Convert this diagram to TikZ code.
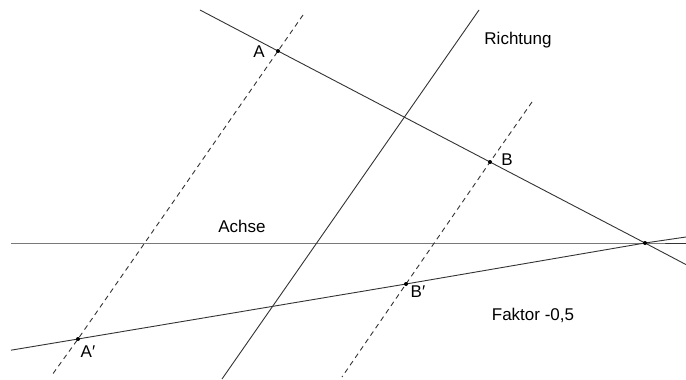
\documentclass[tikz,border=0pt]{standalone}
\usepackage{fontspec}
\setmainfont{Liberation Sans}
\usetikzlibrary{calc}
\definecolor{ln}{HTML}{333333}
\tikzset{
  gline/.style={line width=0.9pt,draw=ln},
  dline/.style={gline,dash pattern=on 5pt off 4pt},
  pt/.style={fill=black},
  lbl/.style={font=\fontsize{17}{20}\selectfont,inner sep=0pt},
}

\begin{document}
\begin{tikzpicture}[x=1pt,y=-1pt]
\useasboundingbox (0,0) rectangle (686,380);
\coordinate (A) at (278,51);
\coordinate (B) at (490,162);
\coordinate (A') at (78,339);
\coordinate (B') at (406,284);
\coordinate (Z) at (645,243);
\coordinate (ab0) at (200,10);
\coordinate (ab1) at (686,264.6);
\coordinate (ax0) at (11,243);
\coordinate (ax1) at (686,243);
\coordinate (bb0) at (11,350.2);
\coordinate (bb1) at (686,237);
\coordinate (da0) at (303,15);
\coordinate (da1) at (52,375);
\coordinate (db0) at (532,102);
\coordinate (db1) at (342,377);
\coordinate (r0) at (479,10);
\coordinate (r1) at (222,379);
\draw[gline] (ab0) -- (A) -- (B) -- (Z) -- (ab1);
\draw[gline] (ax0) -- (Z) -- (ax1);
\draw[gline] (bb0) -- (A') -- (B') -- (Z) -- (bb1);
\draw[gline] (r0) -- (r1);
\draw[dline] (da0) -- (A) -- (A') -- (da1);
\draw[dline] (db0) -- (B) -- (B') -- (db1);
\foreach \p in {A,B,A',B',Z}
  \fill[pt] (\p) circle (2pt);
\node[lbl] (labA) at (259,52) {A};
\node[lbl] (labB) at (507,160) {B};
\node[lbl] (labA') at (88,352) {A′};
\node[lbl] (labB') at (418,292) {B′};
\node[lbl] (richtung) at (518,40) {Richtung};
\node[lbl] (achse) at (242,226) {Achse};
\node[lbl] (faktor) at (533,315) {Faktor -0,5};
\end{tikzpicture}
\end{document}
